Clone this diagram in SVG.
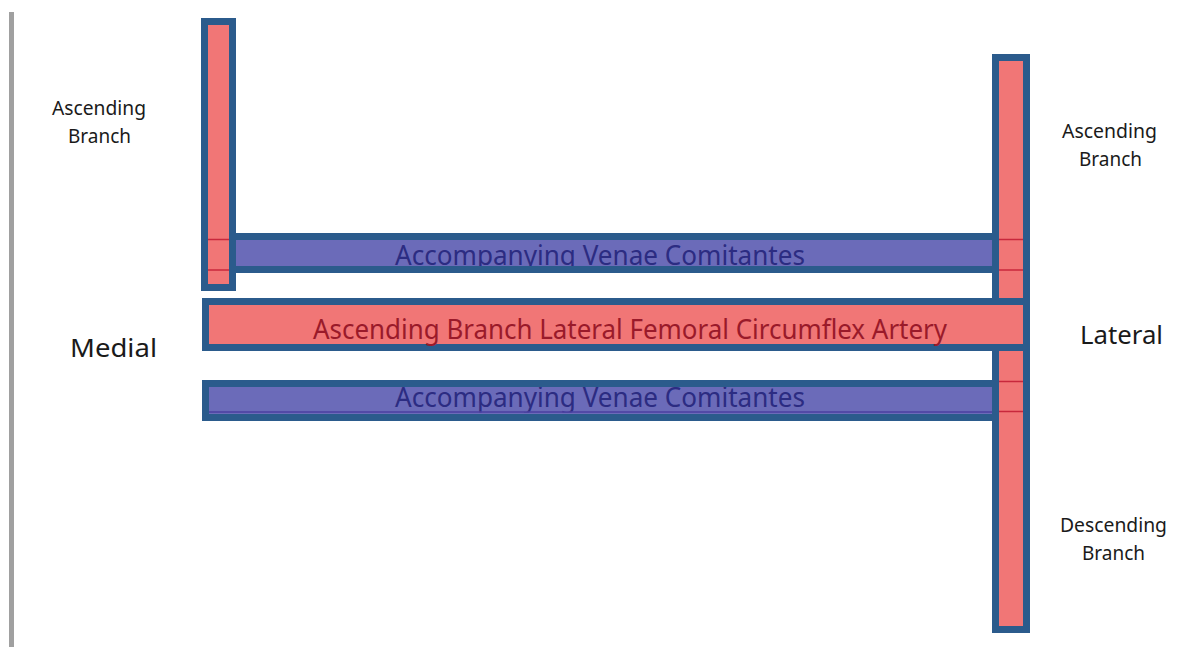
<svg xmlns="http://www.w3.org/2000/svg" width="1194" height="647" viewBox="0 0 1194 647">
<style>
.stk{fill:none;stroke:#2b5b8c;stroke-width:7}
.pink{fill:#f17676}
.purp{fill:#6b6bb9}
.xl{stroke:#c8283c;stroke-width:1.5}
.vt{font-family:'Noto Sans','Open Sans',sans-serif;font-size:28px;fill:#2c2c82}
.at{font-family:'Noto Sans','Open Sans',sans-serif;font-size:28px;fill:#9a1a2a}
.lb{font-family:'Noto Sans','Open Sans',sans-serif;font-size:19px;fill:#1a1a1a}
.lg{font-family:'Noto Sans','Open Sans',sans-serif;font-size:26px;fill:#1a1a1a}
</style>
<rect width="1194" height="647" fill="#ffffff"/>
<rect x="9" y="12" width="5" height="635" fill="#a0a0a0"/>
<g id="upper-venae">
<rect class="purp" x="205" y="236.5" width="791" height="33"/>
<text class="vt" x="395" y="265" textLength="410" lengthAdjust="spacingAndGlyphs">Accompanying Venae Comitantes</text>
<rect class="stk" x="205" y="236.5" width="791" height="33"/>
</g>
<g id="lower-venae">
<rect class="purp" x="205.5" y="383.5" width="791" height="34"/>
<text class="vt" x="395" y="407" textLength="410" lengthAdjust="spacingAndGlyphs">Accompanying Venae Comitantes</text>
<rect class="purp" x="209" y="412.5" width="787" height="4"/>
<line x1="209" y1="412" x2="996" y2="412" stroke="#4a3fa0" stroke-width="1.5"/>
<rect class="stk" x="205.5" y="383.5" width="791" height="34"/>
</g>
<g id="left-ascending-branch">
<rect class="pink" x="204.5" y="21.5" width="28" height="266"/>
<rect class="stk" x="204.5" y="21.5" width="28" height="266"/>
<line class="xl" x1="208" y1="239.5" x2="229" y2="239.5"/>
<line class="xl" x1="208" y1="270" x2="229" y2="270"/>
</g>
<g id="right-branch">
<rect class="pink" x="995.5" y="57.5" width="31" height="572"/>
<rect class="stk" x="995.5" y="57.5" width="31" height="572"/>
<line class="xl" x1="999" y1="239.5" x2="1023" y2="239.5"/>
<line class="xl" x1="999" y1="270" x2="1023" y2="270"/>
<line class="xl" x1="999" y1="381.5" x2="1023" y2="381.5"/>
<line class="xl" x1="999" y1="411.5" x2="1023" y2="411.5"/>
</g>
<g id="artery">
<rect class="pink" x="205.5" y="301.5" width="821" height="46"/>
<rect class="stk" x="205.5" y="301.5" width="821" height="46"/>
<text class="at" x="313" y="339" textLength="634" lengthAdjust="spacingAndGlyphs">Ascending Branch Lateral Femoral Circumflex Artery</text>
</g>
<g id="labels">
<text class="lb" x="52" y="115" textLength="94" lengthAdjust="spacingAndGlyphs">Ascending</text>
<text class="lb" x="68" y="143" textLength="63" lengthAdjust="spacingAndGlyphs">Branch</text>
<text class="lb" x="1062" y="138" textLength="95" lengthAdjust="spacingAndGlyphs">Ascending</text>
<text class="lb" x="1079" y="166" textLength="63" lengthAdjust="spacingAndGlyphs">Branch</text>
<text class="lb" x="1060" y="532" textLength="107" lengthAdjust="spacingAndGlyphs">Descending</text>
<text class="lb" x="1082" y="560" textLength="63" lengthAdjust="spacingAndGlyphs">Branch</text>
<text class="lg" x="70" y="357" textLength="87" lengthAdjust="spacingAndGlyphs">Medial</text>
<text class="lg" x="1080" y="344" textLength="83" lengthAdjust="spacingAndGlyphs">Lateral</text>
</g>
</svg>
